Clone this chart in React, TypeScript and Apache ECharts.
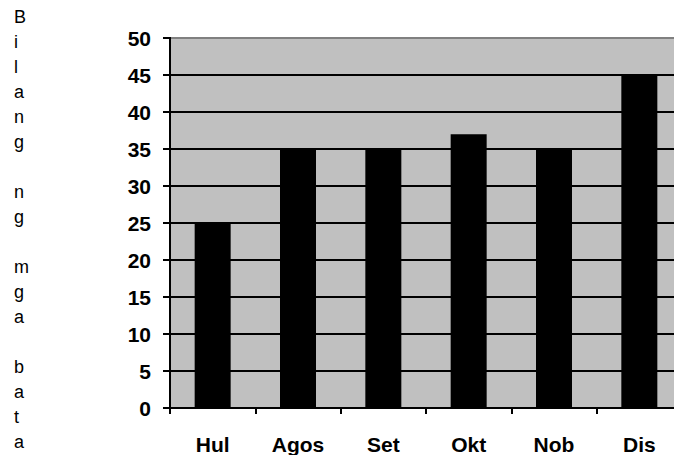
import React, { useEffect, useRef } from "react";
import * as echarts from "echarts";

const categories = ["Hul", "Agos", "Set", "Okt", "Nob", "Dis"];
const values = [25, 35, 35, 37, 35, 45];
const yTitle = "Bilang ng mga bata";

export default function App() {
  const ref = useRef<HTMLDivElement>(null);
  useEffect(() => {
    document.body.style.margin = "0";
    document.body.style.overflow = "hidden";
    const chart = echarts.init(ref.current!, undefined, { renderer: "svg" });
    const font = "Liberation Sans, Arial, sans-serif";
    const letters: any[] = [];
    yTitle.split("").forEach((ch, i) => {
      if (ch === " ") return;
      letters.push({
        type: "text",
        x: 14,
        y: 16.5 + i * 25.05,
        style: {
          text: ch,
          font: `18px ${font}`,
          fill: "#000",
          verticalAlign: "middle",
          align: "left",
          lineHeight: 16,
        },
      });
    });
    chart.setOption({
      animation: false,
      backgroundColor: "#ffffff",
      grid: { left: 170, top: 38, right: 0, height: 372, containLabel: false, backgroundColor: "#c0c0c0", show: true, borderWidth: 0 },
      xAxis: {
        type: "category",
        data: categories,
        axisLine: { lineStyle: { color: "#000", width: 2 } },
        axisTick: { show: true, length: 6, lineStyle: { color: "#000", width: 2 }, alignWithLabel: false },
        axisLabel: { color: "#000", fontWeight: "bold", fontSize: 21, fontFamily: font, margin: 26 },
      },
      yAxis: {
        type: "value",
        min: 0,
        max: 50,
        interval: 5,
        axisLine: { show: true, lineStyle: { color: "#000", width: 2 } },
        axisTick: { show: true, length: 7, lineStyle: { color: "#000", width: 2 } },
        axisLabel: { color: "#000", fontWeight: "bold", fontSize: 21, fontFamily: font, margin: 19 },
        splitLine: { show: true, lineStyle: { color: "#000", width: 2 } },
      },
      series: [
        {
          type: "bar",
          data: values,
          barWidth: 36,
          itemStyle: { color: "#000" },
        },
      ],
      graphic: [
        {
          type: "line",
          shape: { x1: 171, y1: 38, x2: 682, y2: 38 },
          style: { stroke: "#808080", lineWidth: 2 },
          z: 10,
        },
        ...letters,
      ],
    });
    return () => chart.dispose();
  }, []);
  return (
    <div style={{ width: 674, height: 455, overflow: "hidden", position: "relative" }}>
      <div ref={ref} style={{ width: 682, height: 455 }} />
    </div>
  );
}
